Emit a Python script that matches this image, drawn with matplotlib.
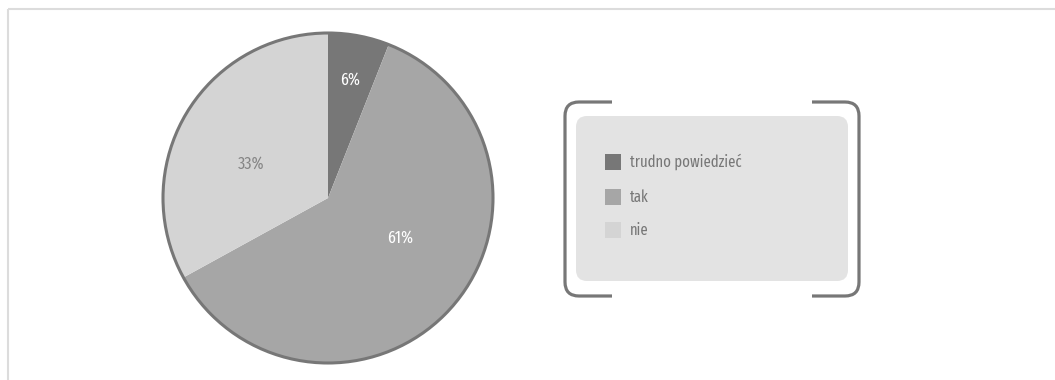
import matplotlib
matplotlib.use("Agg")
import matplotlib.pyplot as plt
import numpy as np
from matplotlib.patches import Circle, FancyBboxPatch, PathPatch, Rectangle
from matplotlib.path import Path

# Survey answers
categories = ["trudno powiedzieć", "tak", "nie"]
values = [6, 61, 33]
colors = ["#777777", "#a6a6a6", "#d4d4d4"]
label_colors = ["#ffffff", "#ffffff", "#858585"]
label_dist = [0.73, 0.50, 0.51]
label_nudge_deg = [0, 12, 7]

W, H = 1055, 380
FONT = ["Fira Sans Extra Condensed", "DejaVu Sans"]

fig = plt.figure(figsize=(W / 100, H / 100), dpi=100)
ax = fig.add_axes([0, 0, 1, 1])


def Y(y):
    return H - y


# pie
cx, cy, r = 328, Y(198), 165
wedges, _ = ax.pie(values, colors=colors, startangle=90, counterclock=False,
                   center=(cx, cy), radius=r, frame=True,
                   wedgeprops=dict(linewidth=0))
ax.set_xlim(0, W)
ax.set_ylim(0, H)
ax.set_aspect("equal")
ax.axis("off")
ax.add_patch(Circle((cx, cy), r, fill=False, edgecolor="#777777", lw=2.2))

for w, v, c, d, n in zip(wedges, values, label_colors, label_dist, label_nudge_deg):
    ang = np.deg2rad((w.theta1 + w.theta2) / 2 + n)
    ax.text(cx + d * r * np.cos(ang), cy + d * r * np.sin(ang), f"{v}%",
            ha="center", va="center", color=c, fontsize=12.5, family=FONT)

# frame lines (top and left)
ax.plot([8, W], [Y(9), Y(9)], color="#dcdcdc", lw=1.5, solid_capstyle="butt")
ax.plot([8, 8], [Y(9), 0], color="#dcdcdc", lw=1.5, solid_capstyle="butt")

# legend panel
ax.add_patch(FancyBboxPatch((576, Y(281)), 272, 165,
                            boxstyle="round,pad=0,rounding_size=11",
                            facecolor="#e3e3e3", edgecolor="none"))


def bracket(x_end, x_edge, y_top, y_bot, rad):
    s = 1 if x_end > x_edge else -1
    verts = [(x_end, Y(y_top)), (x_edge + s * rad, Y(y_top)), (x_edge, Y(y_top)),
             (x_edge, Y(y_top + rad)), (x_edge, Y(y_bot - rad)), (x_edge, Y(y_bot)),
             (x_edge + s * rad, Y(y_bot)), (x_end, Y(y_bot))]
    codes = [Path.MOVETO, Path.LINETO, Path.CURVE3, Path.CURVE3, Path.LINETO,
             Path.CURVE3, Path.CURVE3, Path.LINETO]
    ax.add_patch(PathPatch(Path(verts, codes), fill=False, edgecolor="#777777",
                           lw=2.3, capstyle="butt"))


bracket(612, 565, 102, 296, 14)
bracket(812, 859, 102, 296, 14)

item_y = [162, 197, 230]
for name, col, yy in zip(categories, colors, item_y):
    ax.add_patch(Rectangle((605, Y(yy + 8)), 16, 16, facecolor=col, edgecolor="none"))
    ax.text(630, Y(yy), name, ha="left", va="center", color="#777777",
            fontsize=11.5, family=FONT)

fig.savefig("out.png", dpi=100)
